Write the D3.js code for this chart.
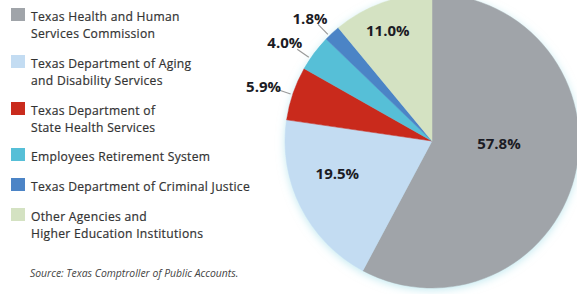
<!DOCTYPE html>
<html>
<head>
<meta charset="utf-8">
<script src="https://cdn.jsdelivr.net/npm/d3@7/dist/d3.min.js"></script>
<style>
  html, body { margin: 0; padding: 0; background: #fff; }
  svg { display: block; }
</style>
</head>
<body>
<div id="chart"></div>
<script>
// Share of spending by agency (percent)
var agencies = [
    ["Texas Health and Human", "Services Commission"],
    ["Texas Department of Aging", "and Disability Services"],
    ["Texas Department of", "State Health Services"],
    ["Employees Retirement System"],
    ["Texas Department of Criminal Justice"],
    ["Other Agencies and", "Higher Education Institutions"]
];
var shares = [57.8, 19.5, 5.9, 4.0, 1.8, 11.0];
var shareLabels = ["57.8%", "19.5%", "5.9%", "4.0%", "1.8%", "11.0%"];
var sourceNote = "Source: Texas Comptroller of Public Accounts.";

(function () {
    "use strict";

    var width = 577, height = 294;
    var colors = ["#a0a4a9", "#c3dcf2", "#c92b1d", "#56bfd7", "#4c84c6", "#d4e2c2"];

    // label placement: inside labels sit on the slice, small ones go outside with a leader
    var labelLayout = [
        { r: 67, shift: -12, outside: false },
        { r: 100, shift: 8, outside: false },
        { r: 177, shift: -1, outside: true },
        { r: 177, shift: -3, outside: true },
        { r: 173, shift: -2, outside: true },
        { r: 119, shift: -2, outside: false }
    ];

    var svg = d3.select("#chart").append("svg")
        .attr("width", width)
        .attr("height", height);

    // soft cyan halo under the pie
    var defs = svg.append("defs");
    var glow = defs.append("filter").attr("id", "halo")
        .attr("x", "-20%").attr("y", "-20%").attr("width", "140%").attr("height", "140%");
    glow.append("feGaussianBlur").attr("in", "SourceAlpha").attr("stdDeviation", 4).attr("result", "b");
    glow.append("feOffset").attr("in", "b").attr("dy", 2).attr("result", "o");
    glow.append("feFlood").attr("flood-color", "#9fdde8").attr("flood-opacity", 0.6).attr("result", "c");
    glow.append("feComposite").attr("in", "c").attr("in2", "o").attr("operator", "in").attr("result", "s");
    var merge = glow.append("feMerge");
    merge.append("feMergeNode").attr("in", "s");
    merge.append("feMergeNode").attr("in", "SourceGraphic");

    // Legend
    var legend = svg.append("g").attr("transform", "translate(11,0)");
    var legendY = [8, 55, 102, 148, 178, 208];
    var items = legend.selectAll("g.item")
        .data(agencies)
        .enter().append("g")
        .attr("class", "item")
        .attr("transform", function (d, i) { return "translate(0," + legendY[i] + ")"; });

    items.append("rect")
        .attr("width", 14).attr("height", 13)
        .attr("fill", function (d, i) { return colors[i]; });

    items.append("text")
        .attr("x", 20)
        .attr("font-family", "'Open Sans', sans-serif")
        .attr("font-size", "12.1px")
        .attr("letter-spacing", "0.3px")
        .attr("fill", "#333")
        .attr("stroke", "#333")
        .attr("stroke-width", 0.2)
        .selectAll("tspan")
        .data(function (d) { return d; })
        .enter().append("tspan")
        .attr("x", 20)
        .attr("y", function (d, j) { return 13 + j * 16.5; })
        .text(function (d) { return d; });

    svg.append("text")
        .attr("x", 30).attr("y", 277)
        .attr("font-family", "'Open Sans', sans-serif")
        .attr("font-style", "italic")
        .attr("font-size", "10.4px")
        .attr("fill", "#444")
        .text(sourceNote);

    // Pie
    var cx = 432, cy = 141, radius = 147;
    var g = svg.append("g").attr("transform", "translate(" + cx + "," + cy + ")");

    var pie = d3.pie().sort(null).value(function (d) { return d; });
    var arcs = pie(shares);
    var arc = d3.arc().innerRadius(0).outerRadius(radius);

    g.append("g").attr("filter", "url(#halo)")
        .selectAll("path")
        .data(arcs)
        .enter().append("path")
        .attr("d", arc)
        .attr("fill", function (d, i) { return colors[i]; })
        .attr("stroke", function (d, i) { return colors[i]; })
        .attr("stroke-width", 0.5);

    function polar(r, deg) {
        var a = deg * Math.PI / 180;
        return [r * Math.sin(a), -r * Math.cos(a)];
    }

    arcs.forEach(function (d, i) {
        var lay = labelLayout[i];
        var mid = (d.startAngle + d.endAngle) / 2 * 180 / Math.PI + lay.shift;
        var p = polar(lay.r, mid);
        if (lay.outside) {
            var a = polar(radius + 2, mid + 0.5);
            var b = polar(radius + 16, mid + 0.5);
            g.append("line")
                .attr("x1", a[0]).attr("y1", a[1])
                .attr("x2", b[0]).attr("y2", b[1])
                .attr("stroke", "#9a9a9a")
                .attr("stroke-width", 1.2);
        }
        g.append("text")
            .attr("x", p[0]).attr("y", p[1])
            .attr("dy", "0.35em")
            .attr("text-anchor", "middle")
            .attr("font-family", "'Open Sans', sans-serif")
            .attr("font-weight", "bold")
            .attr("font-size", "15px")
            .attr("fill", "#1b1b24")
            .text(shareLabels[i]);
    });
})();
</script>
</body>
</html>
